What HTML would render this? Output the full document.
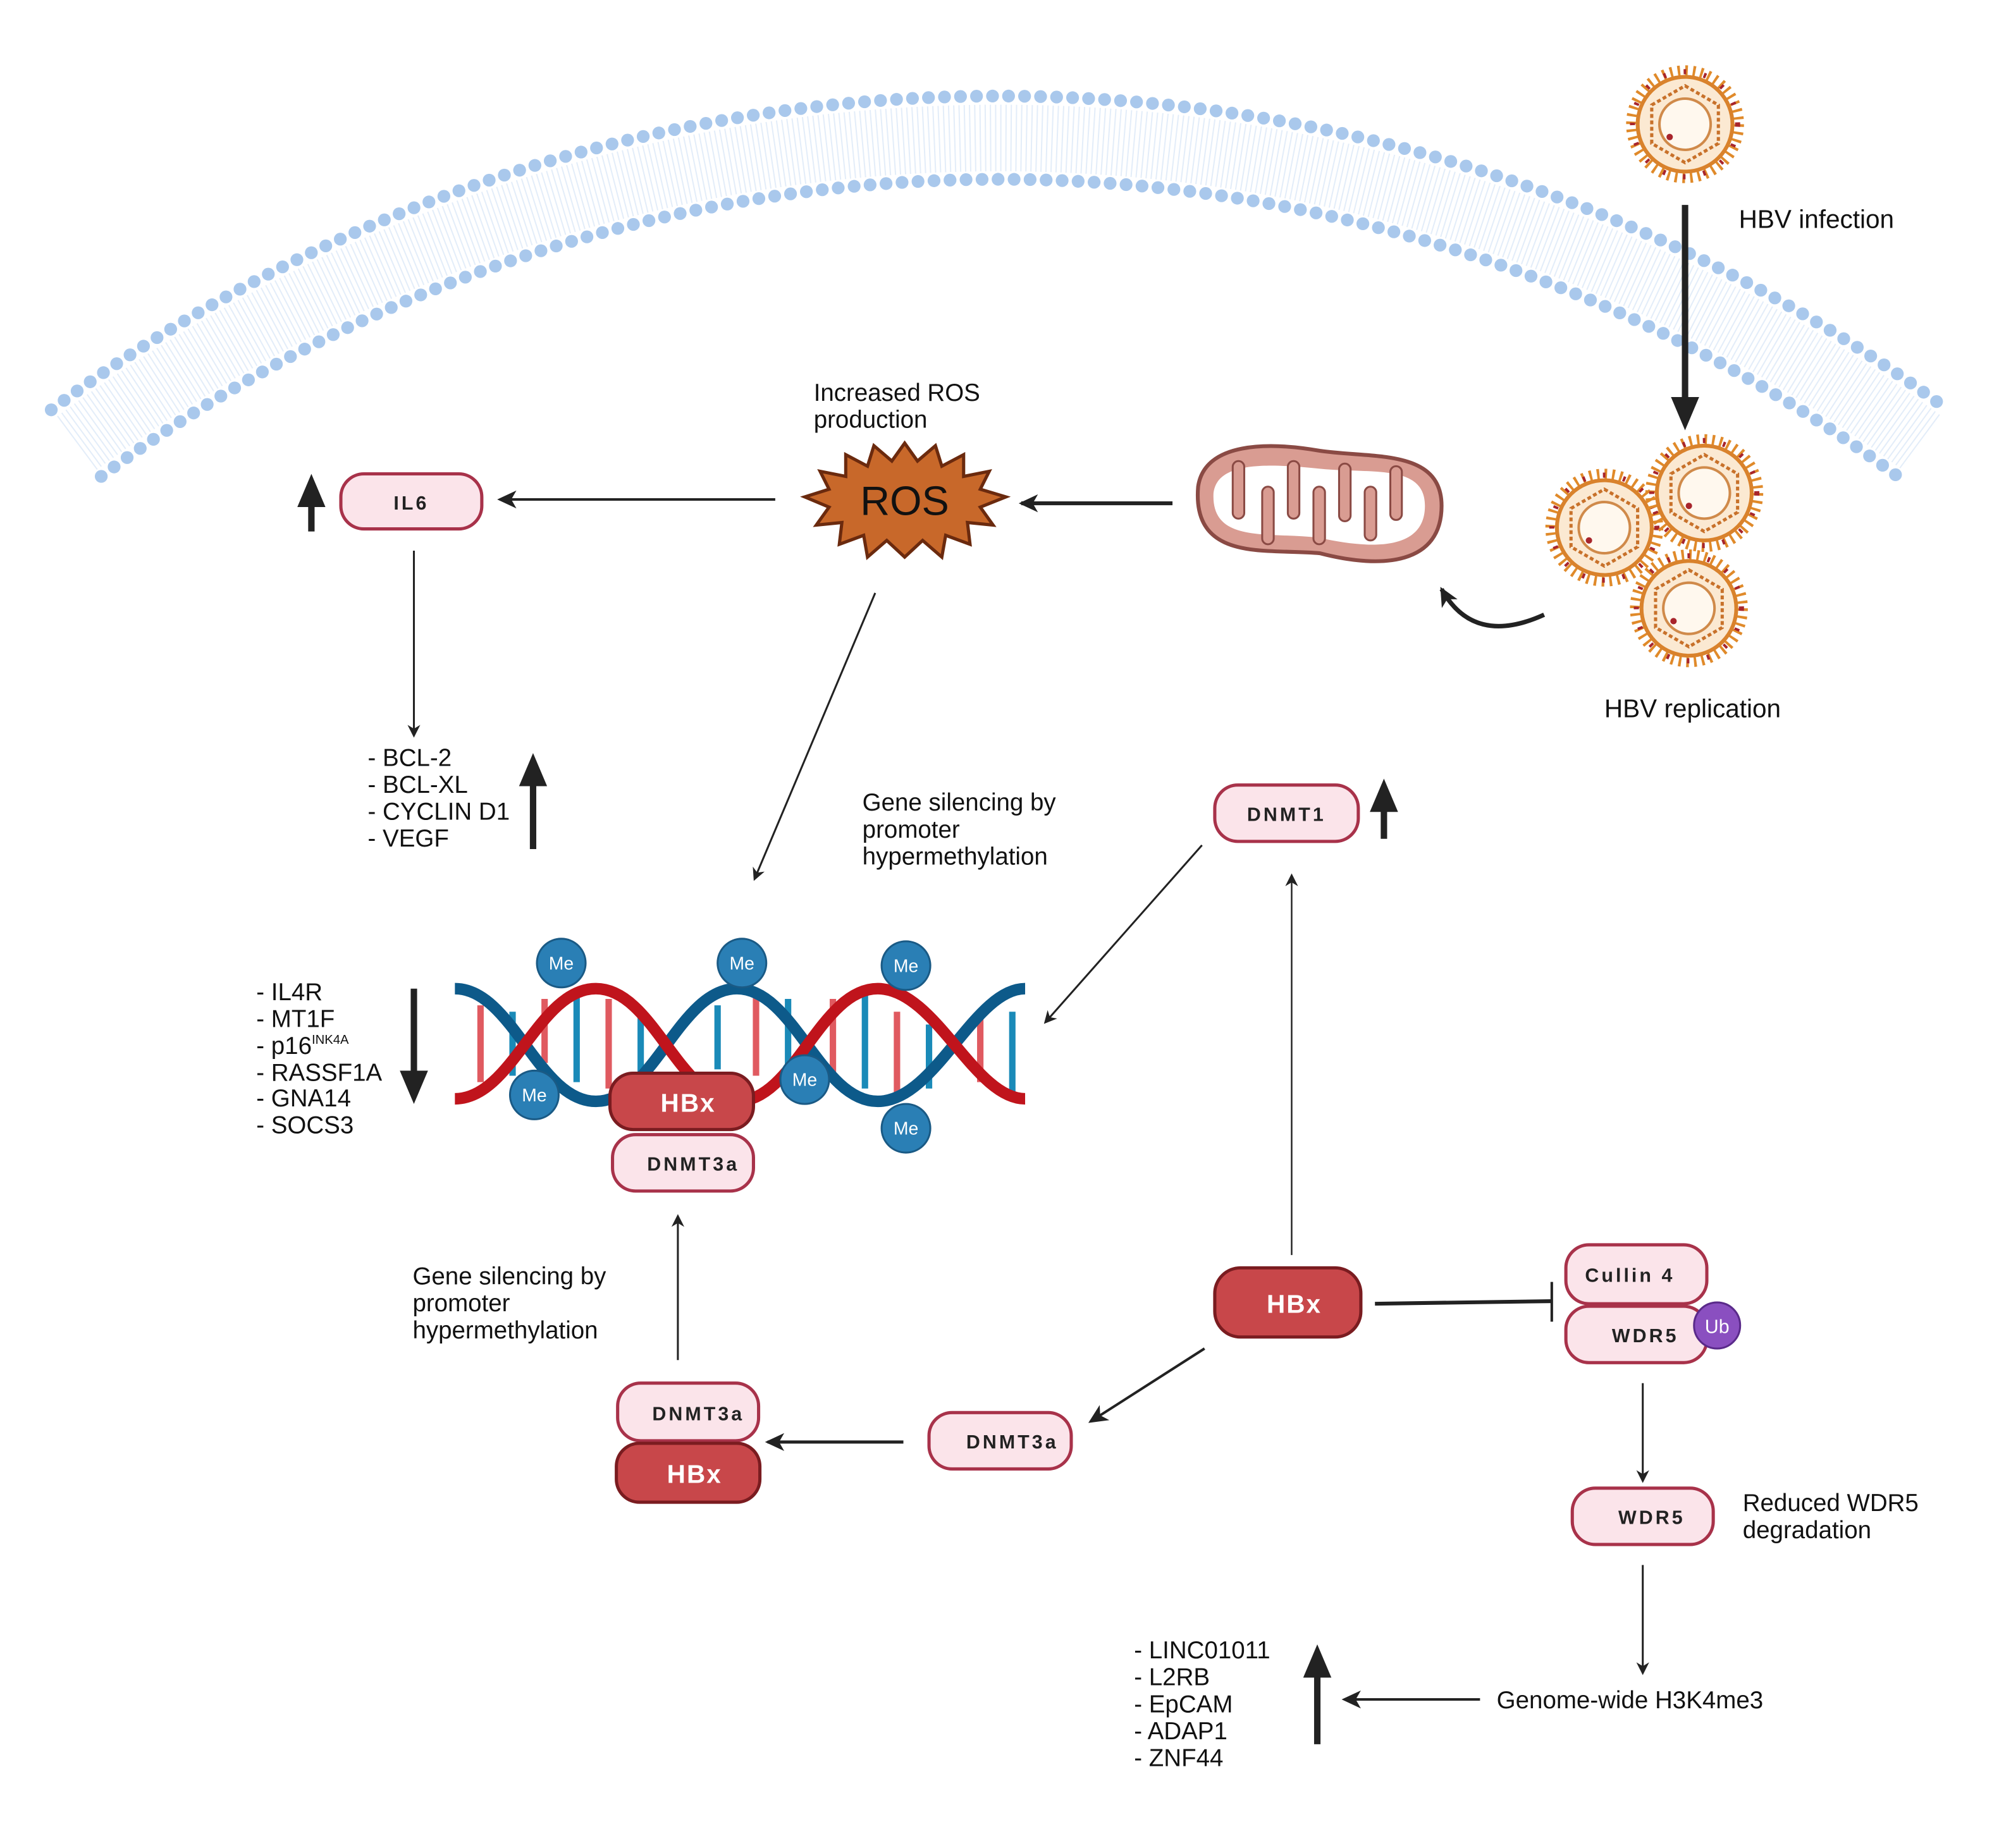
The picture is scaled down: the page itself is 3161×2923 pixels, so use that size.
<!DOCTYPE html>
<html><head><meta charset="utf-8"><style>
html,body{margin:0;padding:0;background:#fff}
svg{display:block}
text{font-family:"Liberation Sans",sans-serif}
</style></head><body>
<svg width="3161" height="2923" viewBox="0 0 1560 1443" preserveAspectRatio="none" xmlns="http://www.w3.org/2000/svg">
<defs>
<marker id="ah" markerWidth="10" markerHeight="10" refX="8" refY="5" orient="auto" markerUnits="userSpaceOnUse"><path d="M0,0 L10,5 L0,10 L3,5 Z" fill="#222"/></marker>
<marker id="ahb" markerWidth="16" markerHeight="16" refX="13" refY="8" orient="auto" markerUnits="userSpaceOnUse"><path d="M0,1 L15,8 L0,15 L4,8 Z" fill="#222"/></marker>
<marker id="ahx" markerWidth="26" markerHeight="26" refX="4" refY="13" orient="auto" markerUnits="userSpaceOnUse"><path d="M0,2 L26,13 L0,24 Z" fill="#222"/></marker>
<g id="virus">
<circle r="42" fill="none" stroke="#e08a2a" stroke-width="8" stroke-dasharray="2 4"/>
<circle r="37" fill="#fbe9d2" stroke="#d9822c" stroke-width="3"/>
<circle r="41" fill="none" stroke="#a8252c" stroke-width="4" stroke-dasharray="2 14"/>
<polygon points="0,-30 26,-15 26,15 0,30 -26,15 -26,-15" fill="none" stroke="#c8712a" stroke-width="2.5" stroke-dasharray="3 2"/>
<circle r="20" fill="#fff8ee" stroke="#d08a4a" stroke-width="2"/>
<circle cx="-12" cy="10" r="2.5" fill="#a8252c"/>
</g>
</defs>
<!-- membrane -->
<path d="M60,346 A1207,1207 0 0 1 1500,346" fill="none" stroke="#e3edf9" stroke-width="52" stroke-dasharray="1 3"/>
<path d="M40,320 A1240,1240 0 0 1 1520,320" fill="none" stroke="#a9c8ec" stroke-width="10" stroke-linecap="round" stroke-dasharray="0 12.5"/>
<path d="M79,372 A1175,1175 0 0 1 1481,372" fill="none" stroke="#a9c8ec" stroke-width="10" stroke-linecap="round" stroke-dasharray="0 12.5"/>
<!-- viruses -->
<use href="#virus" x="1315" y="97"/>
<use href="#virus" x="1252" y="412"/>
<use href="#virus" x="1330" y="385"/>
<use href="#virus" x="1318" y="475"/>
<line x1="1315" y1="160" x2="1315" y2="314" stroke="#222" stroke-width="5" marker-end="url(#ahx)"/>
<text x="1357" y="178" font-size="20" fill="#111">HBV infection</text>
<text x="1252" y="560" font-size="20" fill="#111">HBV replication</text>
<path d="M1205,480 Q1150,505 1125,460" fill="none" stroke="#222" stroke-width="3.5" marker-end="url(#ahb)"/>
<!-- mitochondrion -->
<path d="M935,380 C940,345 990,345 1030,352 C1070,358 1125,350 1125,395 C1125,440 1080,445 1030,432 C990,428 930,440 935,380 Z" fill="#d99c92" stroke="#8a4a44" stroke-width="3"/>
<path d="M947,385 C950,360 990,362 1030,366 C1070,370 1112,362 1112,395 C1112,428 1075,430 1030,420 C990,415 945,425 947,385 Z" fill="#fff"/>
<g fill="#d99c92" stroke="#8a4a44" stroke-width="1.5">
<rect x="962" y="360" width="9" height="45" rx="4.5"/>
<rect x="985" y="380" width="9" height="45" rx="4.5"/>
<rect x="1005" y="360" width="9" height="45" rx="4.5"/>
<rect x="1025" y="380" width="9" height="45" rx="4.5"/>
<rect x="1045" y="362" width="9" height="45" rx="4.5"/>
<rect x="1065" y="380" width="9" height="42" rx="4.5"/>
<rect x="1085" y="364" width="9" height="42" rx="4.5"/>
</g>
<line x1="915" y1="393" x2="797" y2="393" stroke="#222" stroke-width="3" marker-end="url(#ahb)"/>
<!-- ROS -->
<polygon points="706,346 716,360 730,348 735,364 752,355 752,372 772,368 765,382 785,388 765,396 775,410 755,408 757,425 738,418 735,435 720,422 706,435 692,422 677,435 674,418 655,425 657,408 637,410 647,396 628,388 647,382 640,368 660,372 660,355 677,364 682,348 696,360" fill="#c8682a" stroke="#6b2a0e" stroke-width="2.5"/>
<text x="706" y="402" font-size="32" text-anchor="middle" fill="#111">ROS</text>
<text x="635" y="313" font-size="19" fill="#111">Increased ROS</text>
<text x="635" y="334" font-size="19" fill="#111">production</text>
<line x1="605" y1="390" x2="390" y2="390" stroke="#222" stroke-width="2" marker-end="url(#ahb)"/>
<!-- IL6 -->
<rect x="266" y="370" width="110" height="43" rx="18" fill="#fbe4ea" stroke="#a8324a" stroke-width="2.5"/>
<text x="321" y="398" font-size="15" font-weight="bold" text-anchor="middle" letter-spacing="2" fill="#222">IL6</text>
<line x1="243" y1="415" x2="243" y2="392" stroke="#222" stroke-width="5" marker-end="url(#ahx)"/>
<line x1="323" y1="430" x2="323" y2="574" stroke="#222" stroke-width="1.5" marker-end="url(#ah)"/>
<g font-size="19" fill="#111">
<text x="287" y="598">- BCL-2</text><text x="287" y="619">- BCL-XL</text><text x="287" y="640">- CYCLIN D1</text><text x="287" y="661">- VEGF</text>
</g>
<line x1="416" y1="663" x2="416" y2="610" stroke="#222" stroke-width="5" marker-end="url(#ahx)"/>
<line x1="683" y1="463" x2="589" y2="686" stroke="#222" stroke-width="1.5" marker-end="url(#ah)"/>
<g font-size="19" fill="#111">
<text x="673" y="633">Gene silencing by</text><text x="673" y="654">promoter</text><text x="673" y="675">hypermethylation</text>
</g>
<!-- DNMT1 -->
<rect x="948" y="613" width="112" height="44" rx="18" fill="#fbe4ea" stroke="#a8324a" stroke-width="2.5"/>
<text x="1004" y="641" font-size="15" font-weight="bold" text-anchor="middle" letter-spacing="2" fill="#222">DNMT1</text>
<line x1="1080" y1="655" x2="1080" y2="630" stroke="#222" stroke-width="5" marker-end="url(#ahx)"/>
<line x1="1008" y1="980" x2="1008" y2="684" stroke="#222" stroke-width="1.2" marker-end="url(#ah)"/>
<line x1="938" y1="660" x2="816" y2="798" stroke="#222" stroke-width="1.5" marker-end="url(#ah)"/>
<!-- DNA -->
<g stroke-width="5">
<line x1="375" y1="785" x2="375" y2="845" stroke="#e05a60"/><line x1="400" y1="790" x2="400" y2="840" stroke="#1a8ab8"/>
<line x1="425" y1="780" x2="425" y2="830" stroke="#e05a60"/><line x1="450" y1="775" x2="450" y2="845" stroke="#1a8ab8"/>
<line x1="475" y1="780" x2="475" y2="850" stroke="#e05a60"/><line x1="500" y1="795" x2="500" y2="840" stroke="#1a8ab8"/>
<line x1="560" y1="785" x2="560" y2="835" stroke="#1a8ab8"/><line x1="590" y1="775" x2="590" y2="840" stroke="#e05a60"/>
<line x1="615" y1="780" x2="615" y2="850" stroke="#1a8ab8"/><line x1="650" y1="780" x2="650" y2="840" stroke="#e05a60"/>
<line x1="675" y1="775" x2="675" y2="850" stroke="#1a8ab8"/><line x1="700" y1="790" x2="700" y2="855" stroke="#e05a60"/>
<line x1="725" y1="800" x2="725" y2="850" stroke="#1a8ab8"/><line x1="765" y1="795" x2="765" y2="845" stroke="#e05a60"/>
<line x1="790" y1="790" x2="790" y2="855" stroke="#1a8ab8"/>
</g>
<path d="M355,772 C400,772 420,860 465,860 C510,860 530,772 575,772 C620,772 640,860 685,860 C730,860 760,772 800,772" fill="none" stroke="#0d5a8a" stroke-width="9"/>
<path d="M355,858 C400,858 420,772 465,772 C510,772 530,860 575,860 C620,860 640,772 685,772 C730,772 760,858 800,858" fill="none" stroke="#c0141c" stroke-width="9"/>
<g fill="#2a7fb5" stroke="#1a5a85" stroke-width="1.5">
<circle cx="438" cy="752" r="19"/><circle cx="579" cy="752" r="19"/><circle cx="707" cy="754" r="19"/>
<circle cx="417" cy="855" r="19"/><circle cx="628" cy="843" r="19"/><circle cx="707" cy="881" r="19"/>
</g>
<g font-size="14" fill="#fff" text-anchor="middle">
<text x="438" y="757">Me</text><text x="579" y="757">Me</text><text x="707" y="759">Me</text>
<text x="417" y="860">Me</text><text x="628" y="848">Me</text><text x="707" y="886">Me</text>
</g>
<rect x="478" y="886" width="110" height="44" rx="18" fill="#fbe4ea" stroke="#a8324a" stroke-width="2.5"/>
<text x="541" y="914" font-size="15" font-weight="bold" text-anchor="middle" letter-spacing="2" fill="#222">DNMT3a</text>
<rect x="476" y="838" width="112" height="44" rx="18" fill="#c8474a" stroke="#7a1c20" stroke-width="2.5"/>
<text x="537" y="868" font-size="20" font-weight="bold" text-anchor="middle" letter-spacing="1" fill="#fff">HBx</text>
<g font-size="19" fill="#111">
<text x="200" y="781">- IL4R</text><text x="200" y="802">- MT1F</text><text x="200" y="823">- p16<tspan font-size="10" dy="-8">INK4A</tspan></text>
<text x="200" y="844">- RASSF1A</text><text x="200" y="864">- GNA14</text><text x="200" y="885">- SOCS3</text>
</g>
<line x1="323" y1="772" x2="323" y2="840" stroke="#222" stroke-width="5" marker-end="url(#ahx)"/>
<line x1="529" y1="1062" x2="529" y2="950" stroke="#222" stroke-width="1.5" marker-end="url(#ah)"/>
<g font-size="19" fill="#111">
<text x="322" y="1003">Gene silencing by</text><text x="322" y="1024">promoter</text><text x="322" y="1045">hypermethylation</text>
</g>
<!-- HBx center -->
<rect x="948" y="990" width="114" height="54" rx="20" fill="#c8474a" stroke="#7a1c20" stroke-width="2.5"/>
<text x="1010" y="1025" font-size="20" font-weight="bold" text-anchor="middle" letter-spacing="1" fill="#fff">HBx</text>
<line x1="1073" y1="1018" x2="1211" y2="1016" stroke="#222" stroke-width="3"/>
<line x1="1211" y1="1001" x2="1211" y2="1032" stroke="#222" stroke-width="2"/>
<rect x="1222" y="972" width="110" height="46" rx="18" fill="#fbe4ea" stroke="#a8324a" stroke-width="2.5"/>
<text x="1272" y="1001" font-size="15" font-weight="bold" text-anchor="middle" letter-spacing="2" fill="#222">Cullin 4</text>
<rect x="1222" y="1020" width="110" height="44" rx="18" fill="#fbe4ea" stroke="#a8324a" stroke-width="2.5"/>
<text x="1284" y="1048" font-size="15" font-weight="bold" text-anchor="middle" letter-spacing="2" fill="#222">WDR5</text>
<circle cx="1340" cy="1035" r="18" fill="#8a4fc0" stroke="#5a2a8a" stroke-width="1.5"/>
<text x="1340" y="1041" font-size="15" text-anchor="middle" fill="#fff">Ub</text>
<line x1="1282" y1="1080" x2="1282" y2="1156" stroke="#222" stroke-width="1.5" marker-end="url(#ah)"/>
<rect x="1227" y="1162" width="110" height="44" rx="18" fill="#fbe4ea" stroke="#a8324a" stroke-width="2.5"/>
<text x="1289" y="1190" font-size="15" font-weight="bold" text-anchor="middle" letter-spacing="2" fill="#222">WDR5</text>
<text x="1360" y="1180" font-size="19" fill="#111">Reduced WDR5</text>
<text x="1360" y="1201" font-size="19" fill="#111">degradation</text>
<line x1="1282" y1="1222" x2="1282" y2="1306" stroke="#222" stroke-width="1.5" marker-end="url(#ah)"/>
<text x="1168" y="1334" font-size="19" fill="#111">Genome-wide H3K4me3</text>
<line x1="1155" y1="1327" x2="1049" y2="1327" stroke="#222" stroke-width="2" marker-end="url(#ahb)"/>
<line x1="1028" y1="1362" x2="1028" y2="1306" stroke="#222" stroke-width="5" marker-end="url(#ahx)"/>
<g font-size="19" fill="#111">
<text x="885" y="1295">- LINC01011</text><text x="885" y="1316">- L2RB</text><text x="885" y="1337">- EpCAM</text><text x="885" y="1358">- ADAP1</text><text x="885" y="1379">- ZNF44</text>
</g>
<line x1="940" y1="1053" x2="851" y2="1110" stroke="#222" stroke-width="2" marker-end="url(#ahb)"/>
<rect x="725" y="1103" width="111" height="44" rx="18" fill="#fbe4ea" stroke="#a8324a" stroke-width="2.5"/>
<text x="790" y="1131" font-size="15" font-weight="bold" text-anchor="middle" letter-spacing="2" fill="#222">DNMT3a</text>
<line x1="705" y1="1126" x2="599" y2="1126" stroke="#222" stroke-width="2.5" marker-end="url(#ahb)"/>
<rect x="482" y="1080" width="110" height="45" rx="18" fill="#fbe4ea" stroke="#a8324a" stroke-width="2.5"/>
<text x="545" y="1109" font-size="15" font-weight="bold" text-anchor="middle" letter-spacing="2" fill="#222">DNMT3a</text>
<rect x="481" y="1127" width="112" height="46" rx="18" fill="#c8474a" stroke="#7a1c20" stroke-width="2.5"/>
<text x="542" y="1158" font-size="20" font-weight="bold" text-anchor="middle" letter-spacing="1" fill="#fff">HBx</text>
</svg>
</body></html>
